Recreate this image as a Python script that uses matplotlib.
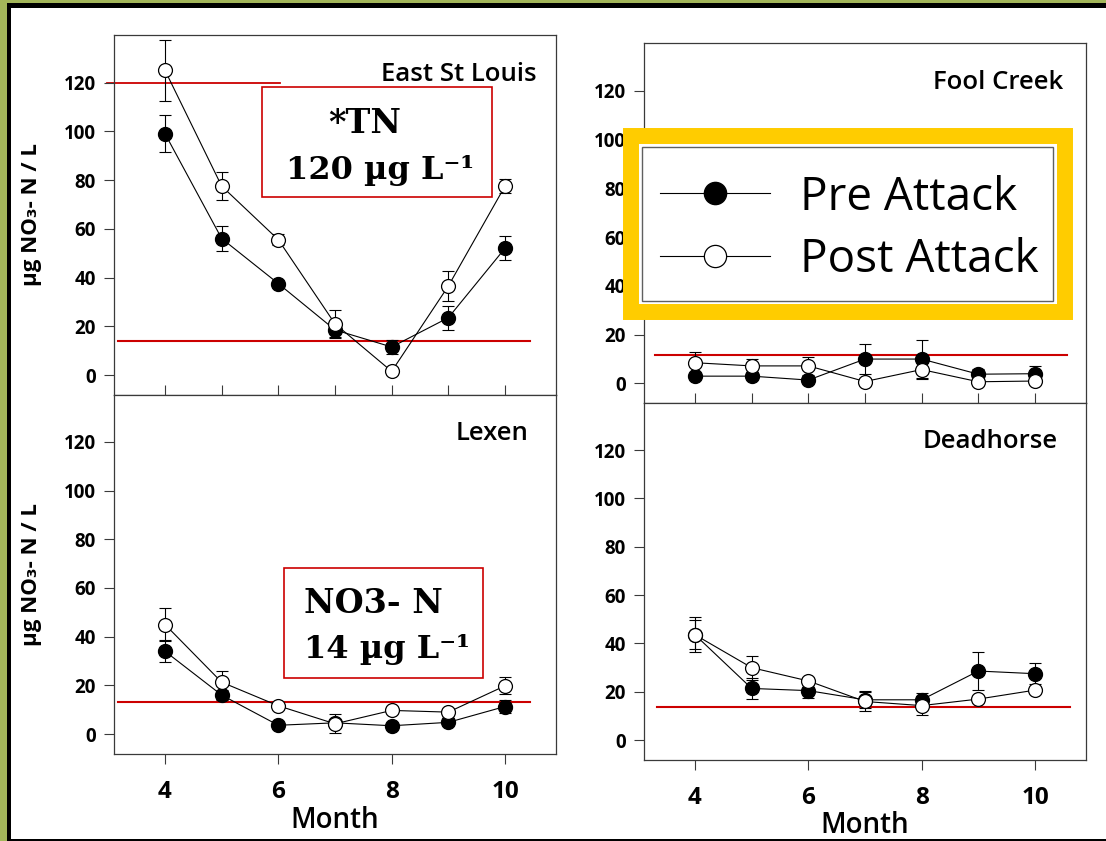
import numpy as np
import matplotlib
matplotlib.use('Agg')
import matplotlib.pyplot as plt
from matplotlib.patches import Rectangle

plt.rcParams['font.family'] = ['Open Sans', 'DejaVu Sans']
plt.rcParams['font.weight'] = 'bold'

# months sampled
months = [4, 5, 6, 7, 8, 9, 10]

# East St Louis
esl_pre = [99, 56, 37.5, 18.5, 11.5, 23.5, 52]
esl_pre_err = [7.7, 5, 0.8, 3, 3, 5, 5]
esl_post = [125, 77.5, 55.5, 21, 1.5, 36.5, 77.5]
esl_post_err = [12.5, 5.8, 2.3, 5.7, 0.8, 6, 3]

# Fool Creek
fool_pre = [3, 3, 1.4, 10, 10, 3.8, 4]
fool_pre_err = [0.8, 0.8, 0.8, 6, 7.7, 2, 3]
fool_post = [8.5, 7.2, 7.2, 0.8, 5.7, 0.7, 1]
fool_post_err = [4.5, 3, 3.7, 0.8, 3.7, 0.8, 0.8]

# Lexen
lexen_pre = [34, 16, 3.6, 4.6, 3.4, 4.8, 11.3]
lexen_pre_err = [4.5, 2, 0.8, 0.8, 0.8, 0.8, 2.5]
lexen_post = [45, 21.3, 11.6, 4.2, 9.7, 9, 19.8]
lexen_post_err = [6.8, 4.4, 0.8, 3.9, 0.8, 0.8, 3.5]

# Deadhorse
dead_pre = [43.6, 21.4, 20.5, 16.7, 16.7, 28.6, 27.5]
dead_pre_err = [6, 4.4, 3, 3.5, 2.8, 8, 4.4]
dead_post = [43.6, 30, 24.5, 16, 14.3, 17, 20.7]
dead_post_err = [7.3, 5, 0.8, 4, 3.8, 0.8, 0.8]

# NO3-N reference line per panel: level, start month, end month
ref_esl = [14, 3.17, 10.44]
ref_fool = [11.6, 3.29, 10.56]
ref_lexen = [13, 3.17, 10.44]
ref_dead = [13.6, 3.33, 10.62]
tn_line = [120, 2.98, 6.03]

W, H = 1106, 841
red = '#CC0000'
spine_col = '#3a3a3a'

fig = plt.figure(figsize=(W / 100, H / 100), dpi=100)


def px_axes(x0, y0, x1, y1):
    return [x0 / W, 1 - y1 / H, (x1 - x0) / W, (y1 - y0) / H]


def px_rect(x0, y0, x1, y1, **kw):
    return Rectangle((x0 / W, 1 - y1 / H), (x1 - x0) / W, (y1 - y0) / H,
                     transform=fig.transFigure, **kw)


ax_tl = fig.add_axes(px_axes(114, 35, 556, 394.5))
ax_bl = fig.add_axes(px_axes(114, 394.5, 556, 753.5))
ax_tr = fig.add_axes(px_axes(644, 43, 1086, 403))
ax_br = fig.add_axes(px_axes(644, 403, 1086, 759.5))

panels = [
    (ax_tl, 'East St Louis', esl_pre, esl_pre_err, esl_post, esl_post_err, ref_esl, 0.957, True, False),
    (ax_tr, 'Fool Creek', fool_pre, fool_pre_err, fool_post, fool_post_err, ref_fool, 0.948, True, True),
    (ax_bl, 'Lexen', lexen_pre, lexen_pre_err, lexen_post, lexen_post_err, ref_lexen, 0.937, False, False),
    (ax_br, 'Deadhorse', dead_pre, dead_pre_err, dead_post, dead_post_err, ref_dead, 0.937, False, True),
]

handles = None
for ax, name, pre, pre_e, post, post_e, ref, tx, top, right in panels:
    ax.errorbar(months, pre, yerr=pre_e, fmt='none', ecolor='black', elinewidth=0.8,
                capsize=4.5, capthick=0.8, zorder=2)
    ax.errorbar(months, post, yerr=post_e, fmt='none', ecolor='black', elinewidth=0.8,
                capsize=4.5, capthick=0.8, zorder=2)
    h1, = ax.plot(months, pre, '-o', color='black', lw=0.8, ms=10, mfc='black',
                  mec='black', zorder=3)
    h2, = ax.plot(months, post, '-o', color='black', lw=0.8, ms=10, mfc='white',
                  mec='black', mew=0.9, zorder=4)
    if handles is None:
        handles = [h1, h2]
    ax.plot([ref[1], ref[2]], [ref[0], ref[0]], color=red, lw=1.5, zorder=1.5)

    ax.set_xlim(3.1, 10.9)
    ax.set_ylim(-8, 139.5)
    ax.set_yticks(range(0, 121, 20))
    ax.tick_params(axis='y', direction='out', length=7, width=0.8, color=spine_col,
                   labelsize=13.5, pad=6)
    if top:
        ax.set_xticks(months)
        ax.tick_params(axis='x', direction='in', length=7, width=0.8, color=spine_col,
                       labelbottom=False)
    else:
        ax.set_xticks([4, 6, 8, 10])
        ax.tick_params(axis='x', direction='out', length=7, width=0.8, color=spine_col,
                       labelsize=17.5, pad=12)
        ax.set_xlabel('Month', fontsize=20, fontweight='semibold')
        ax.xaxis.set_label_coords(0.5, -0.145)
    for s in ax.spines.values():
        s.set_color(spine_col)
        s.set_linewidth(0.9)
    if not right:
        ax.set_ylabel('µg NO₃- N / L', fontsize=16, fontweight='bold')
        ax.yaxis.set_label_coords(-0.163, 0.5)
    ax.text(tx, 0.873, name, transform=ax.transAxes, ha='right', va='baseline',
            fontsize=18.5, fontweight='semibold')

# TN threshold line in East St Louis
ax_tl.plot([tn_line[1], tn_line[2]], [tn_line[0], tn_line[0]], color=red, lw=1.3,
           clip_on=False, zorder=1.5)

# annotation boxes
serif = ['DejaVu Serif']
for (x0, y0, x1, y1) in [(262, 87, 492, 197), (284, 568, 483, 678)]:
    fig.add_artist(px_rect(x0, y0, x1, y1, facecolor='white', edgecolor=red,
                           lw=1.2, zorder=3))
fig.text(365 / W, 1 - 133 / H, '*TN', ha='center', va='baseline', family=serif,
         fontsize=24, fontweight='bold', zorder=4)
fig.text(286 / W, 1 - 179 / H, '120 µg L⁻¹', ha='left', va='baseline', family=serif,
         fontsize=23, fontweight='bold', zorder=4)
fig.text(304 / W, 1 - 613 / H, 'NO3- N', ha='left', va='baseline', family=serif,
         fontsize=24, fontweight='bold', zorder=4)
fig.text(304 / W, 1 - 658 / H, '14 µg L⁻¹', ha='left', va='baseline', family=serif,
         fontsize=23, fontweight='bold', zorder=4)

# legend: yellow surround, grey frame, entries
fig.add_artist(px_rect(631, 136, 1065, 312, facecolor='white', edgecolor='#FFCC00',
                       lw=11.5, joinstyle='miter', zorder=1))
fig.add_artist(px_rect(642, 147, 1053, 301, facecolor='white', edgecolor='#606060',
                       lw=1.0, zorder=2))
leg = fig.legend(handles, ['Pre Attack', 'Post Attack'], loc='center left',
                 bbox_to_anchor=(660 / W, 1 - 229 / H), bbox_transform=fig.transFigure,
                 borderaxespad=0, borderpad=0, frameon=False,
                 prop={'size': 33, 'weight': 'normal'}, markerscale=1.6,
                 handlelength=2.4, handletextpad=0.65, labelspacing=0.37)
leg.set_zorder(6)

# slide frame
olive = '#A3B65A'
fig.add_artist(px_rect(0, 0, 7, H, facecolor=olive, edgecolor='none', zorder=10))
fig.add_artist(px_rect(0, 0, W, 3, facecolor=olive, edgecolor='none', zorder=10))
fig.add_artist(px_rect(7, 3, 11, H, facecolor='black', edgecolor='none', zorder=10))
fig.add_artist(px_rect(7, 3, W, 8, facecolor='black', edgecolor='none', zorder=10))
fig.add_artist(px_rect(7, H - 2, W, H, facecolor='black', edgecolor='none', zorder=10))

fig.savefig('out.png', dpi=100)
